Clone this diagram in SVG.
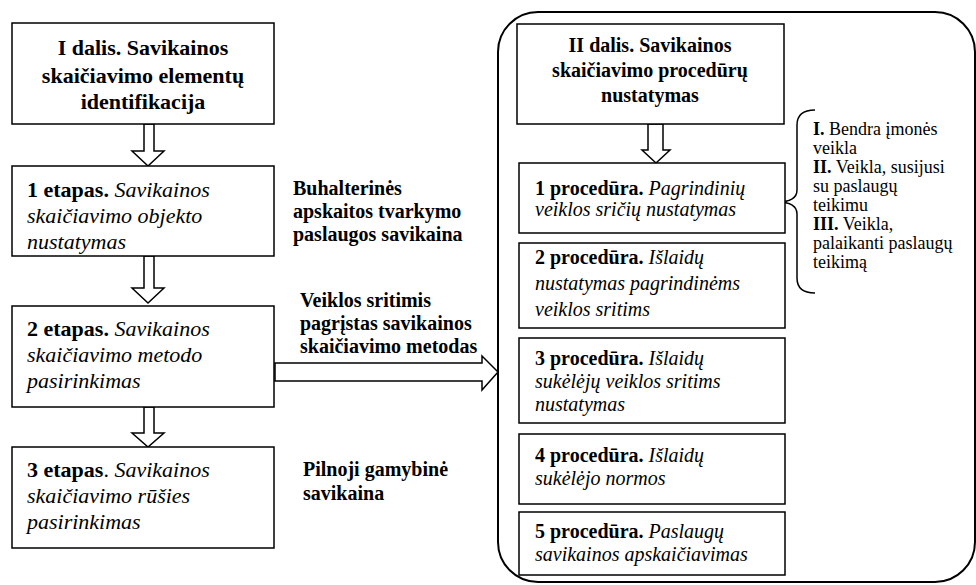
<svg xmlns="http://www.w3.org/2000/svg" width="976" height="585" viewBox="0 0 976 585" font-family="'Liberation Serif', 'Times New Roman', Tinos, 'DejaVu Serif', serif">
<style>
.box{fill:#fff;stroke:#000;stroke-width:1.5}
.arr{fill:#fff;stroke:#000;stroke-width:1.5;stroke-linejoin:miter}
text{font-family:'Liberation Serif','Times New Roman',Tinos,'DejaVu Serif',serif;fill:#000}
.t1{font-size:22px;font-weight:bold;text-anchor:middle}
.t2{font-size:20px;font-weight:bold;text-anchor:middle}
.st{font-size:22px}
.pr{font-size:20px}
.lb{font-size:20px;font-weight:bold}
.br{font-size:18px}
.b{font-weight:bold;font-style:normal}
.i{font-style:italic}
</style>
<rect id="part2-frame" x="498" y="12" width="477" height="570" rx="40" ry="40" fill="#fff" stroke="#000" stroke-width="2"/>
<g id="connectors">
<polygon class="arr" points="144,124 154,124 154,151 164,151 148,166 132,151 144,151"/>
<polygon class="arr" points="144,256 154,256 154,288 164,288 148,303 132,288 144,288"/>
<polygon class="arr" points="144,407 154,407 154,433 164,433 148,447 132,433 144,433"/>
<polygon class="arr" points="648,124 663,124 663,150 670,150 656,163 642,150 648,150"/>
<polygon class="arr" points="275,363 482,363 482,356 498,372 482,390 482,381 275,381"/>
<path d="M815,110 Q797,110 797,125 L797,190 Q797,202 777,202 Q797,202 797,214 L797,278 Q797,293 815,293" fill="none" stroke="#000" stroke-width="1.5"/>
</g>
<g id="part1">
<rect class="box" x="12" y="23" width="262" height="101"/>
<text class="t1" x="143" y="55">I dalis. Savikainos</text>
<text class="t1" x="143" y="83">skaičiavimo elementų</text>
<text class="t1" x="143" y="109">identifikacija</text>
</g>
<g id="step1">
<rect class="box" x="12" y="166" width="262" height="90"/>
<text class="st" x="27" y="197"><tspan class="b">1 etapas.</tspan> <tspan class="i">Savikainos</tspan></text>
<text class="st i" x="27" y="223">skaičiavimo objekto</text>
<text class="st i" x="27" y="249">nustatymas</text>
</g>
<g id="step2">
<rect class="box" x="12" y="306" width="262" height="101"/>
<text class="st" x="27" y="336"><tspan class="b">2 etapas.</tspan> <tspan class="i">Savikainos</tspan></text>
<text class="st i" x="27" y="362">skaičiavimo metodo</text>
<text class="st i" x="27" y="388">pasirinkimas</text>
</g>
<g id="step3">
<rect class="box" x="12" y="447" width="262" height="101"/>
<text class="st" x="27" y="477"><tspan class="b">3 etapas</tspan>. <tspan class="i">Savikainos</tspan></text>
<text class="st i" x="27" y="503">skaičiavimo rūšies</text>
<text class="st i" x="27" y="529">pasirinkimas</text>
</g>
<g id="label1">
<text class="lb" x="293" y="195">Buhalterinės</text>
<text class="lb" x="293" y="218">apskaitos tvarkymo</text>
<text class="lb" x="293" y="241">paslaugos savikaina</text>
</g>
<g id="label2">
<text class="lb" x="300" y="307">Veiklos sritimis</text>
<text class="lb" x="300" y="330">pagrįstas savikainos</text>
<text class="lb" x="300" y="353">skaičiavimo metodas</text>
</g>
<g id="label3">
<text class="lb" x="303" y="476">Pilnoji gamybinė</text>
<text class="lb" x="303" y="500">savikaina</text>
</g>
<g id="part2">
<rect class="box" x="517" y="24" width="267" height="100"/>
<text class="t2" x="650" y="52">II dalis. Savikainos</text>
<text class="t2" x="650" y="77">skaičiavimo procedūrų</text>
<text class="t2" x="650" y="102">nustatymas</text>
</g>
<g id="proc1">
<rect class="box" x="519" y="163" width="266" height="70"/>
<text class="pr" x="535" y="195"><tspan class="b">1 procedūra.</tspan> <tspan class="i">Pagrindinių</tspan></text>
<text class="pr i" x="535" y="216">veiklos sričių nustatymas</text>
</g>
<g id="proc2">
<rect class="box" x="519" y="243" width="266" height="85"/>
<text class="pr" x="535" y="264"><tspan class="b">2 procedūra.</tspan> <tspan class="i">Išlaidų</tspan></text>
<text class="pr i" x="535" y="290">nustatymas pagrindinėms</text>
<text class="pr i" x="535" y="316">veiklos sritims</text>
</g>
<g id="proc3">
<rect class="box" x="519" y="338" width="266" height="85"/>
<text class="pr" x="535" y="365"><tspan class="b">3 procedūra.</tspan> <tspan class="i">Išlaidų</tspan></text>
<text class="pr i" x="535" y="388">sukėlėjų veiklos sritims</text>
<text class="pr i" x="535" y="411">nustatymas</text>
</g>
<g id="proc4">
<rect class="box" x="519" y="434" width="266" height="70"/>
<text class="pr" x="535" y="462"><tspan class="b">4 procedūra.</tspan> <tspan class="i">Išlaidų</tspan></text>
<text class="pr i" x="535" y="485">sukėlėjo normos</text>
</g>
<g id="proc5">
<rect class="box" x="519" y="512" width="266" height="63"/>
<text class="pr" x="535" y="538"><tspan class="b">5 procedūra.</tspan> <tspan class="i">Paslaugų</tspan></text>
<text class="pr i" x="535" y="561">savikainos apskaičiavimas</text>
</g>
<g id="activities">
<text class="br" x="813" y="135"><tspan class="b">I.</tspan> Bendra įmonės</text>
<text class="br" x="813" y="154">veikla</text>
<text class="br" x="813" y="173"><tspan class="b">II.</tspan> Veikla, susijusi</text>
<text class="br" x="813" y="192">su paslaugų</text>
<text class="br" x="813" y="211">teikimu</text>
<text class="br" x="813" y="230"><tspan class="b">III.</tspan> Veikla,</text>
<text class="br" x="813" y="249">palaikanti paslaugų</text>
<text class="br" x="813" y="268">teikimą</text>
</g>
</svg>
